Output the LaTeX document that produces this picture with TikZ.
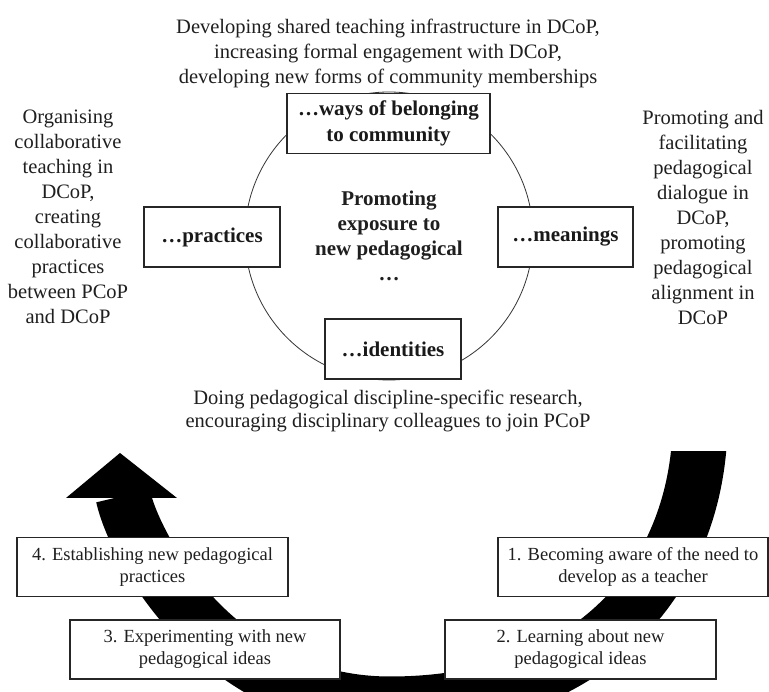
\documentclass[tikz,border=0pt]{standalone}
\usepackage{fontspec}
\setmainfont{Liberation Serif}
\begin{document}
\begin{tikzpicture}[x=1pt,y=-1pt,
  txt/.style={align=center, font=\fontsize{20.5}{25}\selectfont, text=black!88, inner sep=0pt},
  bbox/.style={draw=black!85, line width=1.2pt, fill=white, minimum height=60pt, inner sep=0pt, text=black!90, font=\bfseries\fontsize{21}{25.5}\selectfont, align=center},
  sbox/.style={draw=black!85, line width=1.2pt, fill=white, minimum width=270pt, minimum height=59pt, inner sep=0pt, text=black!88, font=\fontsize{18.5}{22}\selectfont, align=center},
  band/.style={line width=55pt, black},
]
\useasboundingbox (0,0) rectangle (769,692);
% big U-shaped arrow
\coordinate (armtop) at (700,430);
\coordinate (bottom) at (390,704);
\coordinate (headbase) at (123,496);
\coordinate (headL) at (66,498);
\coordinate (headR) at (177,498);
\coordinate (tip) at (120,453);
\begin{scope}
\clip (0,452) rectangle (769,692);
\draw[band] (armtop) .. controls (695,580) and (590,704) .. (bottom)
  .. controls (220,704) and (135,550) .. (headbase);
\fill[black] (headL) -- (tip) -- (headR) -- cycle;
\end{scope}
% circle
\node[circle, draw=black!80, line width=0.8pt, minimum size=288pt, inner sep=0pt] (ring) at (389,236) {};
% circle boxes
\node[bbox, minimum width=203pt] (belong) at (388.5,123.5) {…ways of belonging\\to community};
\node[bbox, minimum width=136pt] (pract) at (212,237) {…practices};
\node[bbox, minimum width=135pt] (mean) at (565.5,237) {…meanings};
\node[bbox, minimum width=136pt] (ident) at (393,349) {…identities};
\node[txt, font=\bfseries\fontsize{21}{25}\selectfont] (centre) at (389,236) {Promoting\\exposure to\\new pedagogical\\…};
% side texts
\node[txt] (toptext) at (388,53) {Developing shared teaching infrastructure in DCoP,\\increasing formal engagement with DCoP,\\developing new forms of community memberships};
\node[txt] (lefttext) at (68,217) {Organising\\collaborative\\teaching in\\DCoP,\\creating\\collaborative\\practices\\between PCoP\\and DCoP};
\node[txt] (righttext) at (703,217) {Promoting and\\facilitating\\pedagogical\\dialogue in\\DCoP,\\promoting\\pedagogical\\alignment in\\DCoP};
\node[txt, font=\fontsize{20.5}{23.5}\selectfont] (bottext) at (388,411) {Doing pedagogical discipline-specific research,\\encouraging disciplinary colleagues to join PCoP};
% step boxes
\node[sbox, minimum width=271pt] (s4) at (152.5,567) {4. Establishing new pedagogical\\practices};
\node[sbox] (s1) at (633,567) {1. Becoming aware of the need to\\develop as a teacher};
\node[sbox] (s3) at (205,649.5) {3. Experimenting with new\\pedagogical ideas};
\node[sbox, minimum width=271pt] (s2) at (580.5,649.5) {2. Learning about new\\pedagogical ideas};
\end{tikzpicture}
\end{document}
